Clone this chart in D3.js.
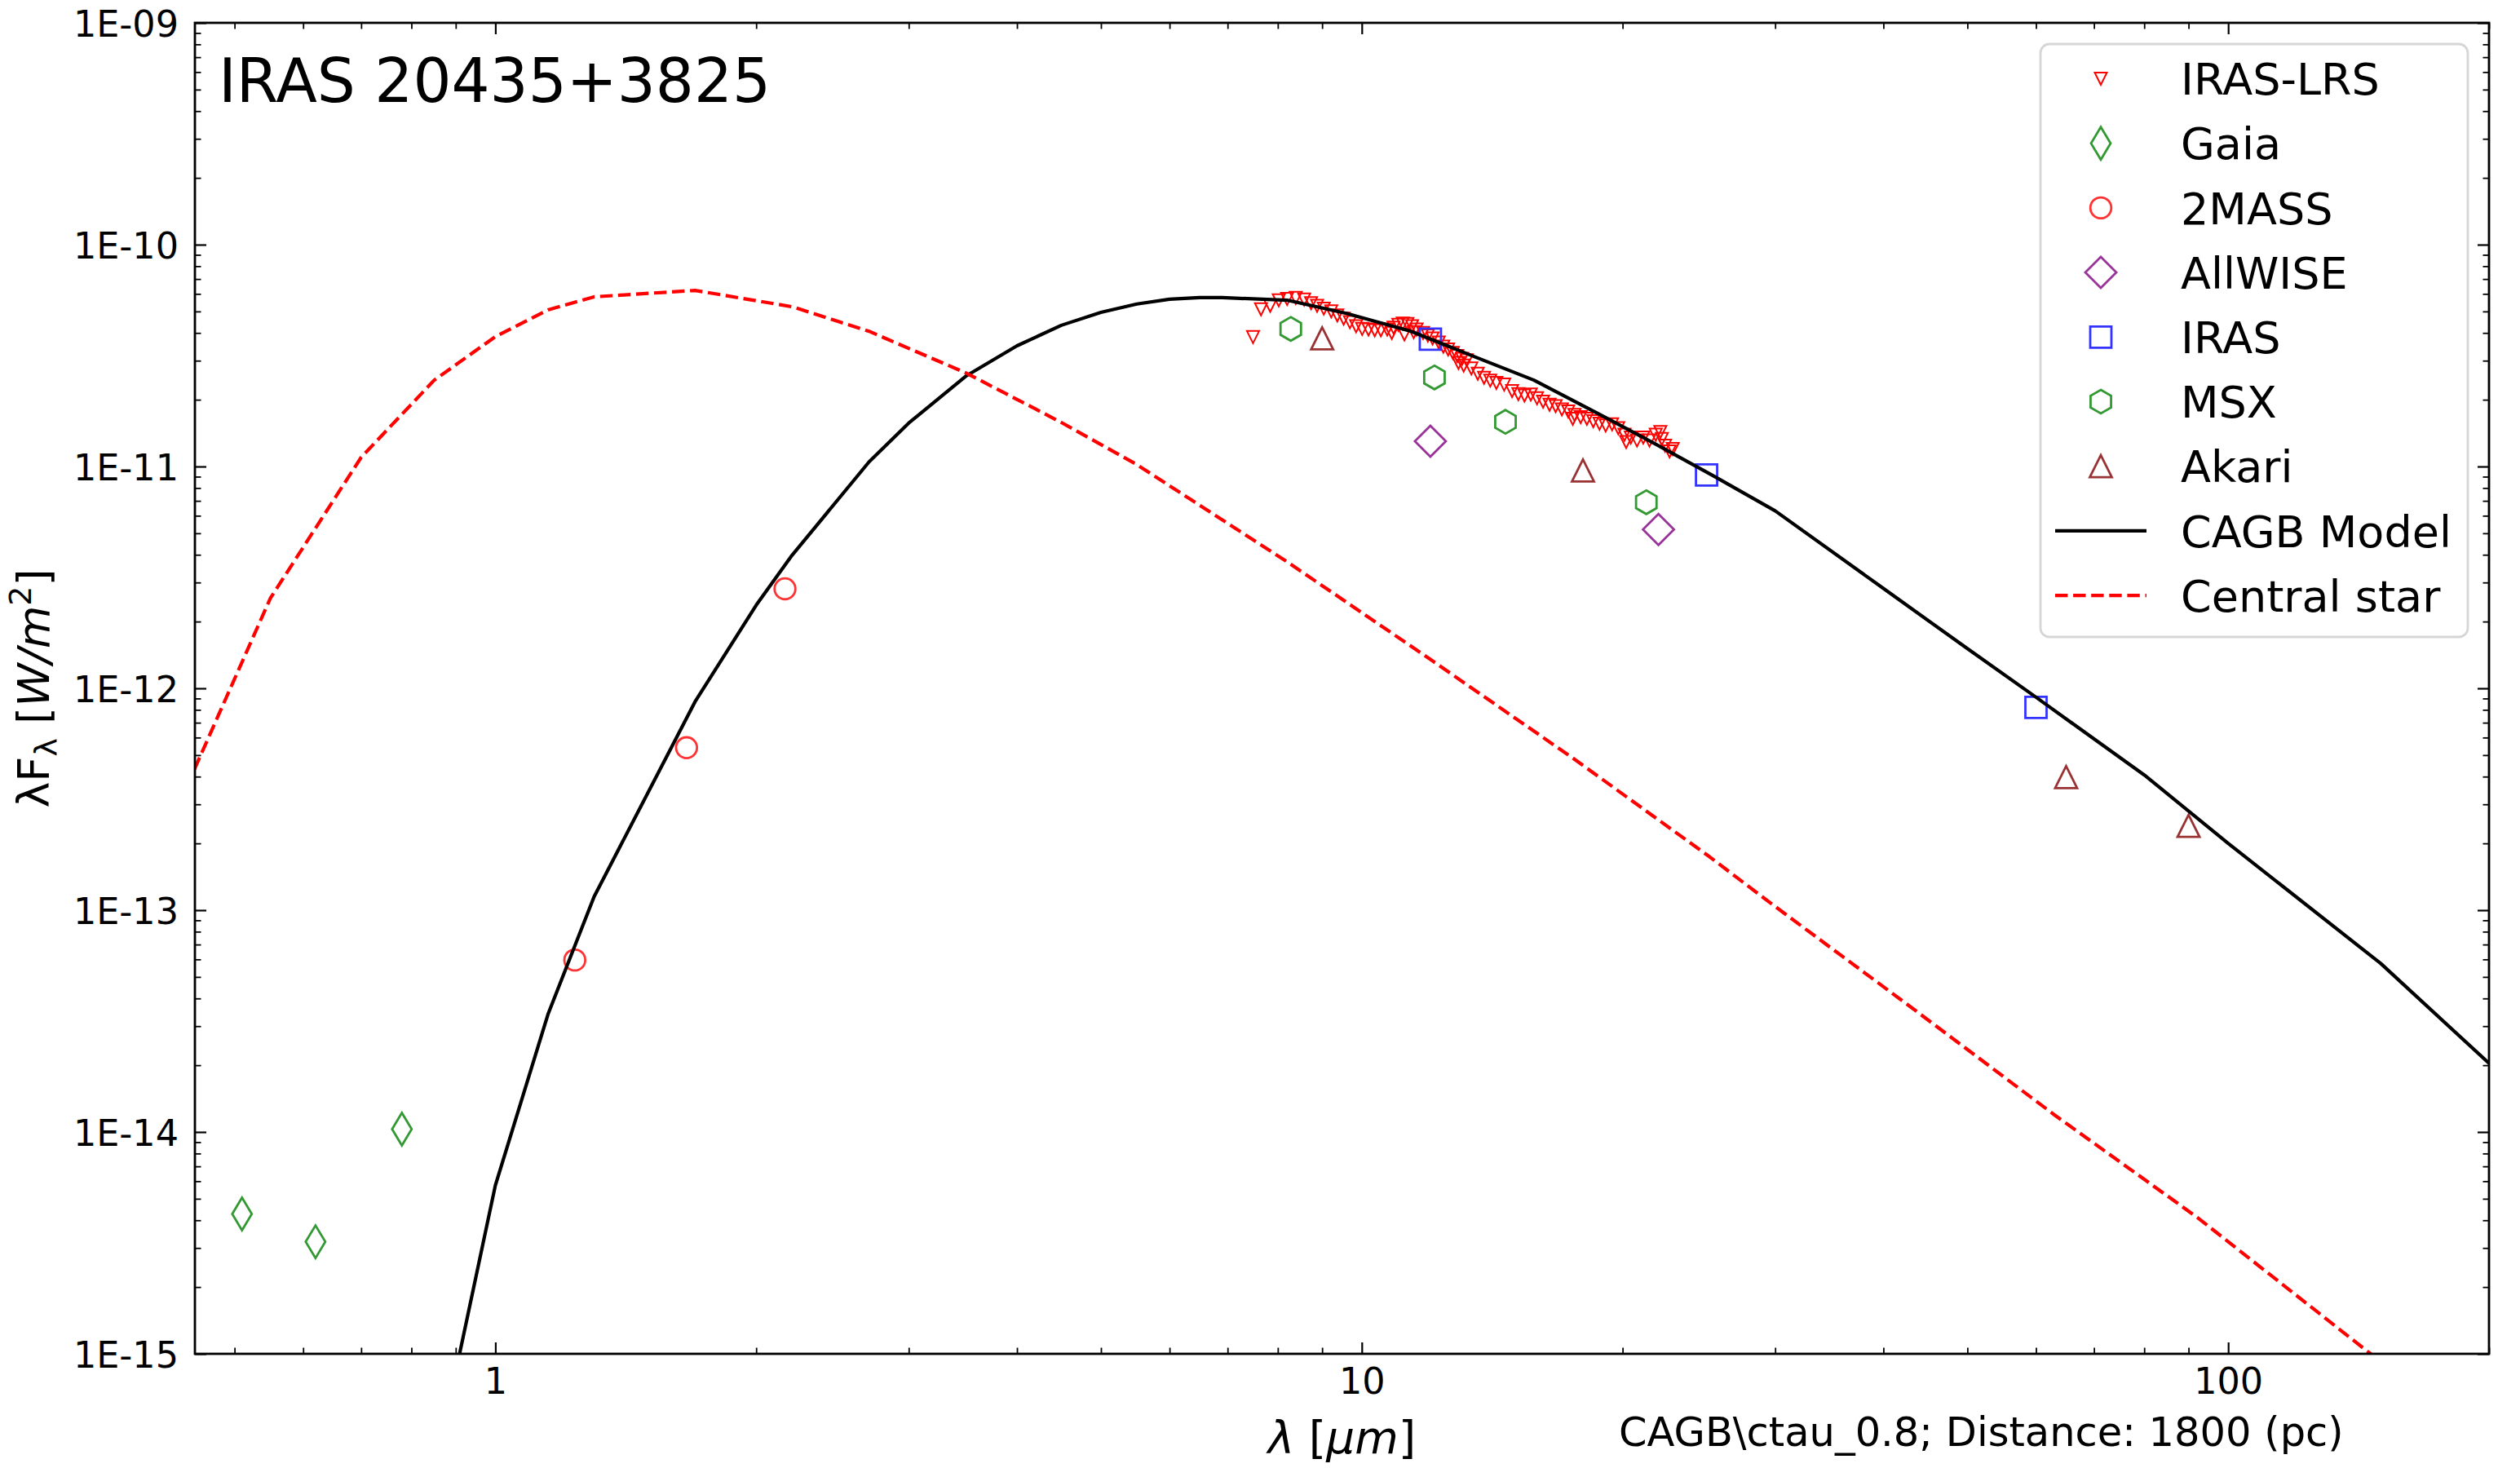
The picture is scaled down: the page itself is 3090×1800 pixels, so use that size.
<!DOCTYPE html>
<html>
<head>
<meta charset="utf-8">
<script src="https://cdn.jsdelivr.net/npm/d3@7"></script>
<style>
  body { margin: 0; background: #fff; }
  text { font-family: "DejaVu Sans", sans-serif; }
</style>
</head>
<body>
<div id="sed"></div>
<script>
// photometry, [wavelength in micron, lambda*F_lambda in W/m^2]
let lrsData = [
  [7.49, 3.83e-11], [7.65, 5.11e-11], [7.84, 5.30e-11], [8.02, 5.61e-11], [8.20, 5.69e-11],
  [8.39, 5.75e-11], [8.58, 5.66e-11], [8.74, 5.45e-11], [8.88, 5.30e-11], [9.04, 5.15e-11],
  [9.22, 5.01e-11], [9.37, 4.80e-11], [9.53, 4.64e-11], [9.69, 4.47e-11], [9.85, 4.29e-11],
  [10.01, 4.17e-11], [10.18, 4.15e-11], [10.35, 4.11e-11], [10.52, 4.11e-11], [10.70, 4.15e-11],
  [10.83, 4.00e-11], [10.88, 4.23e-11], [11.02, 4.35e-11], [11.15, 4.41e-11], [11.20, 3.94e-11],
  [11.29, 4.39e-11], [11.43, 4.29e-11], [11.48, 4.03e-11], [11.57, 4.15e-11], [11.77, 4.00e-11],
  [11.92, 3.89e-11], [12.07, 3.78e-11], [12.27, 3.62e-11], [12.42, 3.47e-11], [12.58, 3.37e-11],
  [12.74, 3.25e-11], [12.89, 3.15e-11], [12.93, 2.93e-11], [13.06, 3.06e-11], [13.11, 2.85e-11],
  [13.22, 3.01e-11], [13.38, 2.77e-11], [13.61, 2.62e-11], [13.84, 2.51e-11], [14.07, 2.44e-11],
  [14.30, 2.38e-11], [14.60, 2.34e-11], [14.91, 2.19e-11], [15.16, 2.12e-11], [15.41, 2.09e-11],
  [15.67, 2.11e-11], [15.93, 2.03e-11], [16.19, 1.96e-11], [16.47, 1.90e-11], [16.74, 1.87e-11],
  [17.02, 1.81e-11], [17.31, 1.77e-11], [17.52, 1.64e-11], [17.60, 1.71e-11], [17.89, 1.67e-11],
  [18.19, 1.64e-11], [18.50, 1.60e-11], [18.81, 1.56e-11], [19.12, 1.53e-11], [19.45, 1.55e-11],
  [19.77, 1.49e-11], [20.10, 1.39e-11], [20.19, 1.29e-11], [20.44, 1.35e-11], [20.78, 1.31e-11],
  [21.13, 1.35e-11], [21.48, 1.31e-11], [21.84, 1.39e-11], [22.11, 1.43e-11], [22.20, 1.33e-11],
  [22.39, 1.24e-11], [22.66, 1.17e-11], [22.85, 1.20e-11]
];
let gaiaData    = [[0.51, 4.27e-15], [0.62, 3.20e-15], [0.78, 1.03e-14]];
let twomassData = [[1.235, 5.96e-14], [1.662, 5.40e-13], [2.159, 2.81e-12]];
let allwiseData = [[12.0, 1.30e-11], [22.0, 5.20e-12]];
let irasData    = [[12.0, 3.75e-11], [25.0, 9.16e-12], [60.0, 8.20e-13]];
let msxData     = [[8.28, 4.17e-11], [12.13, 2.52e-11], [14.65, 1.59e-11], [21.3, 6.90e-12]];
let akariData   = [[9.0, 3.78e-11], [18.0, 9.60e-12], [65.0, 3.98e-13], [90.0, 2.40e-13]];

// models
let modelData = [
  [0.8, 9.5e-17], [1.0, 5.75e-15], [1.15, 3.39e-14], [1.3, 1.15e-13], [1.7, 8.7e-13],
  [2.0, 2.37e-12], [2.2, 3.98e-12], [2.7, 1.05e-11], [3.0, 1.57e-11], [3.5, 2.57e-11],
  [4.0, 3.50e-11], [4.5, 4.33e-11], [5.0, 4.95e-11], [5.5, 5.40e-11], [6.0, 5.68e-11],
  [6.5, 5.77e-11], [6.9, 5.77e-11], [8.2, 5.62e-11], [9.6, 4.90e-11], [11.4, 4.07e-11],
  [13.4, 3.16e-11], [15.8, 2.45e-11], [18.7, 1.74e-11], [22.1, 1.23e-11], [25.4, 9.12e-12],
  [30, 6.31e-12], [40, 2.82e-12], [50, 1.51e-12], [60, 9.12e-13], [80, 4.07e-13],
  [100, 2.0e-13], [150, 5.75e-14], [200, 2.04e-14]
];
let starData = [
  [0.4, 1.55e-13], [0.55, 2.55e-12], [0.7, 1.10e-11], [0.85, 2.45e-11], [1.0, 3.85e-11],
  [1.15, 5.08e-11], [1.3, 5.82e-11], [1.7, 6.22e-11], [2.2, 5.25e-11], [2.7, 4.07e-11],
  [3.5, 2.63e-11], [4.5, 1.58e-11], [5.5, 1.02e-11], [8.2, 3.72e-12], [12, 1.35e-12],
  [17.6, 4.79e-13], [25.2, 1.74e-13], [29.6, 1.08e-13], [43.3, 3.59e-14], [63.1, 1.19e-14],
  [92.2, 4.11e-15], [146, 1.0e-15], [200, 3.8e-16]
];

// ticks
let xMajor = [1, 10, 100];
let xMinor = [0.5, 0.6, 0.7, 0.8, 0.9, 2, 3, 4, 5, 6, 7, 8, 9, 20, 30, 40, 50, 60, 70, 80, 90, 200];
let yMajor = [1e-15, 1e-14, 1e-13, 1e-12, 1e-11, 1e-10, 1e-9];
let yLabels = ["1E-15", "1E-14", "1E-13", "1E-12", "1E-11", "1E-10", "1E-09"];
let yMinor = yMajor.slice(0, -1).flatMap(function(d) {
  return [2, 3, 4, 5, 6, 7, 8, 9].map(function(m) { return m * d; });
});

let legendLabels = ["IRAS-LRS", "Gaia", "2MASS", "AllWISE", "IRAS", "MSX", "Akari", "CAGB Model", "Central star"];

let margin = {
  top:    28,
  right:  38,
  bottom: 140,
  left:   239
};

let exteriorWidth  = 3090,
    exteriorHeight = 1800;

let interiorWidth  = exteriorWidth - margin.left - margin.right,
    interiorHeight = exteriorHeight - margin.top - margin.bottom;

let root =
  d3.select("#sed")
    .append("svg")
      .attr("width", exteriorWidth)
      .attr("height", exteriorHeight);

root.append("rect")
    .attr("width", exteriorWidth)
    .attr("height", exteriorHeight)
    .attr("fill", "#fff");

let svg = root.append("g")
    .attr("transform", translate(margin.left, margin.top));

let x = d3.scaleLog()
    .domain([0.45, 200])
    .range([0, interiorWidth]);

let y = d3.scaleLog()
    .domain([1e-15, 1e-9])
    .range([interiorHeight, 0]);

let shapes = {
  triDown: function(h) { return "M" + (-h) + "," + (-h) + "L" + h + "," + (-h) + "L0," + h + "Z"; },
  triUp:   function(h) { return "M0," + (-h) + "L" + h + "," + h + "L" + (-h) + "," + h + "Z"; },
  square:  function(h) { return "M" + (-h) + "," + (-h) + "H" + h + "V" + h + "H" + (-h) + "Z"; },
  diamond: function(h) { return "M0," + (-h) + "L" + h + ",0L0," + h + "L" + (-h) + ",0Z"; },
  thinDiamond: function(h) { return "M0," + (-h) + "L" + (0.6 * h) + ",0L0," + h + "L" + (-0.6 * h) + ",0Z"; },
  circle:  function(h) { return "M" + h + ",0A" + h + "," + h + " 0 1,1 " + (-h) + ",0A" + h + "," + h + " 0 1,1 " + h + ",0Z"; },
  hexagon: function(h) {
    return d3.range(6).map(function(i) {
      let a = Math.PI / 3 * i - Math.PI / 2;
      return (i ? "L" : "M") + (h * Math.cos(a)).toFixed(2) + "," + (h * Math.sin(a)).toFixed(2);
    }).join("") + "Z";
  }
};

let series = [
  {data: lrsData,     shape: "triDown",     size: 7.5,  color: "#ff0000", width: 2},
  {data: gaiaData,    shape: "thinDiamond", size: 20,   color: "#339933", width: 2.8},
  {data: twomassData, shape: "circle",      size: 12.8, color: "#ff3333", width: 2.8},
  {data: allwiseData, shape: "diamond",     size: 19,   color: "#993399", width: 2.8},
  {data: irasData,    shape: "square",      size: 13,   color: "#3333ff", width: 2.8},
  {data: msxData,     shape: "hexagon",     size: 14.5, color: "#339933", width: 2.8},
  {data: akariData,   shape: "triUp",       size: 13.5, color: "#993333", width: 2.8}
];

let lines = [
  {data: modelData, color: "#000",    dash: null},
  {data: starData,  color: "#ff0000", dash: "15.4 6.7"}
];

// ticks, all pointing inward
function styleAxis(g, w) {
  g.select(".domain").remove();
  g.selectAll(".tick line").attr("stroke", "#000").attr("stroke-width", w);
  g.selectAll(".tick text")
    .attr("fill", "#000")
    .attr("font-family", "DejaVu Sans")
    .attr("font-size", 44.5);
}

svg.append("g")
    .attr("transform", translate(0, interiorHeight))
    .call(d3.axisBottom(x).tickValues(xMajor).tickFormat(d3.format("d"))
      .tickSizeInner(-14).tickSizeOuter(0).tickPadding(17))
    .call(styleAxis, 2.2);

svg.append("g")
    .attr("transform", translate(0, interiorHeight))
    .call(d3.axisBottom(x).tickValues(xMinor).tickFormat(function() { return ""; })
      .tickSizeInner(-7.5).tickSizeOuter(0))
    .call(styleAxis, 1.8);

svg.append("g")
    .call(d3.axisTop(x).tickValues(xMajor).tickFormat(function() { return ""; })
      .tickSizeInner(-14).tickSizeOuter(0))
    .call(styleAxis, 2.2);

svg.append("g")
    .call(d3.axisTop(x).tickValues(xMinor).tickFormat(function() { return ""; })
      .tickSizeInner(-7.5).tickSizeOuter(0))
    .call(styleAxis, 1.8);

svg.append("g")
    .call(d3.axisLeft(y).tickValues(yMajor)
      .tickFormat(function(d, i) { return yLabels[i]; })
      .tickSizeInner(-14).tickSizeOuter(0).tickPadding(20))
    .call(styleAxis, 2.2)
  .selectAll(".tick text")
    .attr("dy", "0.36em");

svg.append("g")
    .call(d3.axisLeft(y).tickValues(yMinor).tickFormat(function() { return ""; })
      .tickSizeInner(-7.5).tickSizeOuter(0))
    .call(styleAxis, 1.8);

svg.append("g")
    .attr("transform", translate(interiorWidth, 0))
    .call(d3.axisRight(y).tickValues(yMajor).tickFormat(function() { return ""; })
      .tickSizeInner(-14).tickSizeOuter(0))
    .call(styleAxis, 2.2);

svg.append("g")
    .attr("transform", translate(interiorWidth, 0))
    .call(d3.axisRight(y).tickValues(yMinor).tickFormat(function() { return ""; })
      .tickSizeInner(-7.5).tickSizeOuter(0))
    .call(styleAxis, 1.8);

svg.append("clipPath")
    .attr("id", "plot-area")
  .append("rect")
    .attr("width", interiorWidth)
    .attr("height", interiorHeight);

// markers first, model curves drawn on top
series.forEach(function(s) {
  svg.append("g")
      .attr("clip-path", "url(#plot-area)")
    .selectAll("path")
    .data(s.data)
    .enter()
    .append("path")
      .attr("transform", function(d) { return translate(x(d[0]), y(d[1])); })
      .attr("d", shapes[s.shape](s.size))
      .attr("fill", "none")
      .attr("stroke", s.color)
      .attr("stroke-width", s.width);
});

let line = d3.line()
    .x(function(d) { return x(d[0]); })
    .y(function(d) { return y(d[1]); });

svg.append("g")
    .attr("clip-path", "url(#plot-area)")
  .selectAll(".model")
  .data(lines)
  .enter()
  .append("path")
    .attr("class", "model")
    .attr("d", function(d) { return line(d.data); })
    .attr("fill", "none")
    .attr("stroke", function(d) { return d.color; })
    .attr("stroke-width", 4.2)
    .attr("stroke-linejoin", "round")
    .attr("stroke-dasharray", function(d) { return d.dash; });

svg.append("rect")
    .attr("width", interiorWidth)
    .attr("height", interiorHeight)
    .attr("fill", "none")
    .attr("stroke", "#000")
    .attr("stroke-width", 2.8);

// texts
svg.append("text")
    .attr("x", 29)
    .attr("y", 97)
    .attr("font-size", 74)
    .text("IRAS 20435+3825");

let xLabel = root.append("text")
    .attr("x", margin.left + interiorWidth / 2)
    .attr("y", 1782)
    .attr("text-anchor", "middle")
    .attr("font-size", 55);
xLabel.append("tspan").attr("font-style", "italic").text("λ");
xLabel.append("tspan").text(" [");
xLabel.append("tspan").attr("font-style", "italic").text("μm");
xLabel.append("tspan").text("]");

let yLabel = root.append("text")
    .attr("transform", translate(60, margin.top + interiorHeight / 2) + " rotate(-90)")
    .attr("text-anchor", "middle")
    .attr("font-size", 54);
yLabel.append("tspan").text("λF");
yLabel.append("tspan").attr("font-size", 38).attr("dy", 9).text("λ");
yLabel.append("tspan").attr("dy", -9).text(" [");
yLabel.append("tspan").attr("font-style", "italic").text("W/m");
yLabel.append("tspan").attr("font-size", 38).attr("dy", -22).text("2");
yLabel.append("tspan").attr("dy", 22).text("]");

root.append("text")
    .attr("x", 1985)
    .attr("y", 1773)
    .attr("font-size", 49.5)
    .text("CAGB\\ctau_0.8; Distance: 1800 (pc)");

// legend
let legend = root.append("g")
    .attr("transform", translate(2502, 54));

legend.append("rect")
    .attr("width", 524)
    .attr("height", 727)
    .attr("rx", 11)
    .attr("fill", "#fff")
    .attr("fill-opacity", 0.8)
    .attr("stroke", "#d6d6d6")
    .attr("stroke-width", 2.8);

let rowY = function(i) { return 42.5 + 79.2 * i; };

series.forEach(function(s, i) {
  legend.append("path")
      .attr("transform", translate(74, rowY(i)))
      .attr("d", shapes[s.shape](s.size))
      .attr("fill", "none")
      .attr("stroke", s.color)
      .attr("stroke-width", s.width);
});

lines.forEach(function(l, i) {
  let j = series.length + i;
  legend.append("line")
      .attr("x1", 18)
      .attr("x2", 130)
      .attr("y1", rowY(j))
      .attr("y2", rowY(j))
      .attr("stroke", l.color)
      .attr("stroke-width", 4.2)
      .attr("stroke-dasharray", l.dash);
});

legend.selectAll(".label")
  .data(legendLabels)
  .enter()
  .append("text")
    .attr("class", "label")
    .attr("x", 172)
    .attr("y", function(d, i) { return rowY(i) + 19.7; })
    .attr("font-size", 54)
    .text(function(d) { return d; });

function translate(x, y=0) {
  return "translate({x}, {y})"
          .replace("{x}", x)
          .replace("{y}", y);
}
</script>
</body>
</html>
